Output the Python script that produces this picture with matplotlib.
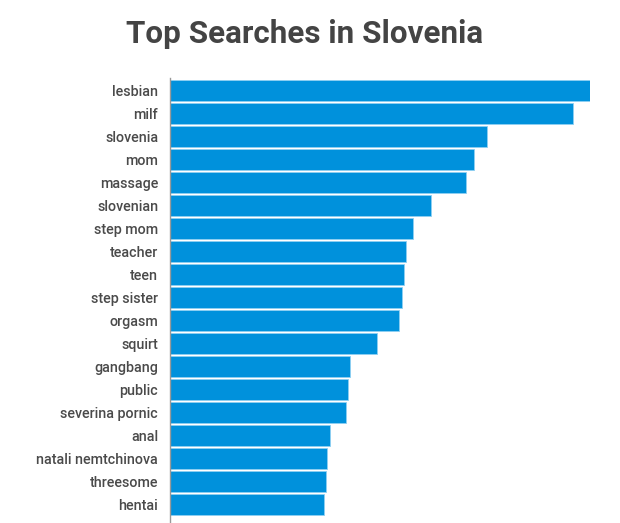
import matplotlib.pyplot as plt

terms = ['lesbian', 'milf', 'slovenia', 'mom', 'massage', 'slovenian', 'step mom',
         'teacher', 'teen', 'step sister', 'orgasm', 'squirt', 'gangbang', 'public',
         'severina pornic', 'anal', 'natali nemtchinova', 'threesome', 'hentai']
scores = [420, 403, 317, 304, 296, 261, 243, 236, 234, 232, 229, 207, 180, 178,
          176, 160, 157, 156, 154]

plt.rcParams['font.family'] = ['Roboto', 'DejaVu Sans']

fig = plt.figure(figsize=(6.2, 5.23), dpi=100)
ax = fig.add_axes([170 / 620, 1 / 523, 420 / 620, 444 / 523])

pos = list(range(len(terms)))
ax.barh(pos, scores, height=0.913, color='#0091dc', edgecolor='#8fd0f2', linewidth=0.6)

ax.set_ylim(18.76, -0.54)
ax.set_xlim(0, 420)
ax.set_yticks(pos)
ax.set_yticklabels(terms, fontsize=10.3, color='#4a4a4a', fontweight='medium')
ax.tick_params(axis='y', length=0, pad=8.5)
ax.set_xticks([])
for s in ['top', 'right', 'bottom']:
    ax.spines[s].set_visible(False)
ax.spines['left'].set_color('#999999')
ax.spines['left'].set_linewidth(1)

fig.text(305 / 620, 1 - 34 / 523, 'Top Searches in Slovenia', ha='center', va='center',
         fontsize=22.6, fontweight='bold', color='#444444')

fig.savefig('out.png', dpi=100)
